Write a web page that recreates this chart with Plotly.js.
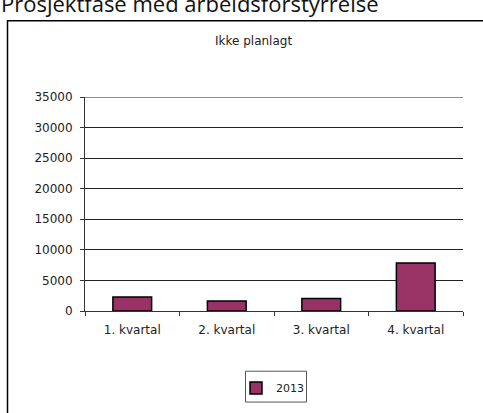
<!DOCTYPE html>
<html>
<head>
<meta charset="utf-8">
<script src="https://cdn.plot.ly/plotly-3.0.1.min.js"></script>
<style>html,body{margin:0;padding:0;background:#fff;}#chart{width:483px;height:413px;}</style>
</head>
<body>
<div id="chart"></div>
<script>
const categories = ["1. kvartal", "2. kvartal", "3. kvartal", "4. kvartal"];
const values2013 = [2300, 1650, 2050, 7850];
const seriesName = "2013";
const chartTitle = "Ikke planlagt";
const pageHeading = "Prosjektfase med arbeidsforstyrrelse";
const yTicks = [0, 5000, 10000, 15000, 20000, 25000, 30000, 35000];

const W = 483, H = 413, L = 85, R = 20, T = 97, B = 101;
const pw = W - L - R, ph = H - T - B;
const px = x => (x - L) / pw;
const py = y => (H - B - y) / ph;

const trace = {
  type: "bar",
  x: categories,
  y: values2013,
  name: seriesName,
  marker: { color: "#993366", line: { color: "#000000", width: 1.5 } },
  hoverinfo: "none"
};

const layout = {
  width: W, height: H,
  margin: { l: L, r: R, t: T, b: B, pad: 0 },
  paper_bgcolor: "#ffffff",
  plot_bgcolor: "#ffffff",
  font: { family: "DejaVu Sans, sans-serif", size: 12, color: "#222222" },
  bargap: 0.59,
  showlegend: true,
  legend: {
    orientation: "h",
    x: px(236), xanchor: "left",
    y: py(388), yanchor: "middle",
    bgcolor: "rgba(0,0,0,0)",
    borderwidth: 0,
    font: { family: "DejaVu Sans, sans-serif", size: 11, color: "#222222" },
    itemwidth: 30
  },
  xaxis: {
    type: "category",
    showline: true, linecolor: "#333333", linewidth: 1,
    ticks: "outside", ticklen: 4, tickcolor: "#333333",
    tickson: "boundaries",
    ticklabelstandoff: 8,
    showgrid: false, zeroline: false,
    fixedrange: true
  },
  yaxis: {
    range: [0, 35000],
    tickvals: yTicks,
    ticktext: yTicks.map(String),
    showline: true, linecolor: "#333333", linewidth: 1,
    ticks: "outside", ticklen: 4, tickcolor: "#333333",
    ticklabelstandoff: 5,
    showgrid: true, gridcolor: "#222222", gridwidth: 1,
    zeroline: false,
    fixedrange: true
  },
  annotations: [
    {
      text: chartTitle, xref: "paper", yref: "paper",
      x: px(253.5), y: py(41), xanchor: "center", yanchor: "middle",
      showarrow: false, font: { family: "DejaVu Sans, sans-serif", size: 12, color: "#222222" }
    },
    {
      text: pageHeading, xref: "paper", yref: "paper",
      x: px(-1), y: py(3), xanchor: "left", yanchor: "middle",
      showarrow: false, font: { family: "Open Sans, sans-serif", size: 22, color: "#111111" }
    }
  ],
  shapes: [
    { type: "line", xref: "paper", yref: "paper", x0: px(7.5), x1: px(7.5), y0: py(20), y1: py(420), line: { color: "#000000", width: 1.5 } },
    { type: "line", xref: "paper", yref: "paper", x0: px(7), x1: px(490), y0: py(20.5), y1: py(20.5), line: { color: "#000000", width: 1.5 } },
    { type: "line", xref: "paper", yref: "y", x0: 0, x1: 1, y0: yTicks[yTicks.length - 1], y1: yTicks[yTicks.length - 1], line: { color: "#222222", width: 1 } },
    { type: "rect", xref: "paper", yref: "paper", x0: px(245.5), x1: px(306.5), y0: py(372.5), y1: py(403.5), line: { color: "#555555", width: 1 }, fillcolor: "rgba(0,0,0,0)" }
  ]
};

Plotly.newPlot("chart", [trace], layout, { staticPlot: true, displayModeBar: false });
</script>
</body>
</html>
